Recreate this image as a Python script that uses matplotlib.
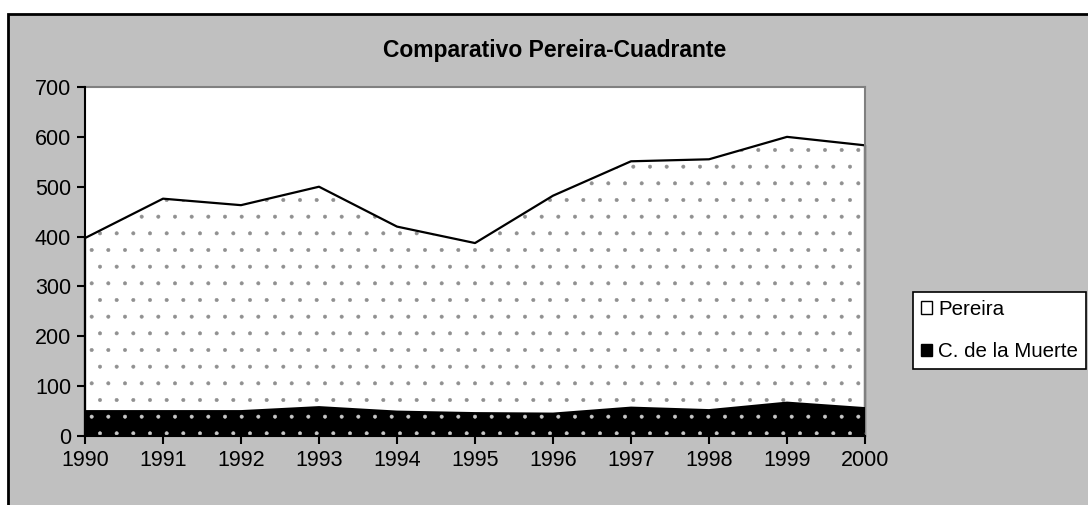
import matplotlib
matplotlib.use('Agg')
import matplotlib.pyplot as plt
from matplotlib.patches import Rectangle, Patch

years = [1990, 1991, 1992, 1993, 1994, 1995, 1996, 1997, 1998, 1999, 2000]
pereira = [397, 476, 463, 500, 420, 387, 482, 551, 555, 600, 583]
muerte = [52, 52, 52, 60, 51, 48, 47, 59, 54, 69, 58]
yticks = [0, 100, 200, 300, 400, 500, 600, 700]

plt.rcParams['font.family'] = ['Liberation Sans', 'DejaVu Sans']
plt.rcParams['hatch.linewidth'] = 0.4

gray = '#C0C0C0'
fig = plt.figure(figsize=(10.88, 5.05), dpi=100)
fig.patch.set_facecolor('white')

# chart area background with black border (runs off the right/bottom edge)
fig.patches.append(Rectangle((8 / 1088, -0.1), 1.2, 1 - 14 / 505 + 0.1,
                             transform=fig.transFigure, facecolor=gray,
                             edgecolor='black', linewidth=2, zorder=-1))

ax = fig.add_axes([85 / 1088, 1 - 436 / 505, 780 / 1088, 349 / 505])
ax.set_zorder(1)
ax.set_facecolor('white')

ax.fill_between(years, 0, pereira, facecolor='white', edgecolor='#909090',
                hatch='.', linewidth=0, zorder=1)
ax.plot([years[0]] + years + [years[-1]], [0] + pereira + [0],
        color='black', linewidth=1.6, zorder=2, clip_on=False)
ax.fill_between(years, 0, muerte, facecolor='black', edgecolor='#c8c8c8',
                hatch='.', linewidth=0, zorder=3)

ax.set_xlim(1990, 2000)
ax.set_ylim(0, 700)
ax.set_xticks(years)
ax.set_yticks(yticks)
ax.tick_params(axis='both', direction='out', length=6, width=1.5,
               labelsize=15.5, colors='black', pad=4)
for s in ['top', 'right']:
    ax.spines[s].set_color('#808080')
    ax.spines[s].set_linewidth(1.5)
for s in ['left', 'bottom']:
    ax.spines[s].set_color('black')
    ax.spines[s].set_linewidth(1.5)
    ax.spines[s].set_zorder(5)

fig.text(555 / 1088, 1 - 50 / 505, 'Comparativo Pereira-Cuadrante',
         ha='center', va='center', fontsize=16.5, fontweight='bold', zorder=2)

handles = [Patch(facecolor='white', edgecolor='black', linewidth=1),
           Patch(facecolor='black', edgecolor='black', linewidth=1)]
leg = fig.legend(handles, ['Pereira', 'C. de la Muerte'],
                 loc='upper left', bbox_to_anchor=(913 / 1088, 1 - 292 / 505),
                 fontsize=14.8, frameon=True, fancybox=False, framealpha=1,
                 handlelength=0.55, handleheight=0.55, handletextpad=0.3,
                 borderpad=0.38, labelspacing=1.15, borderaxespad=0)
leg.set_zorder(3)
leg.get_frame().set_edgecolor('black')
leg.get_frame().set_linewidth(1.2)
leg.get_frame().set_facecolor('white')

fig.savefig('out.png', dpi=100, facecolor=fig.get_facecolor())
